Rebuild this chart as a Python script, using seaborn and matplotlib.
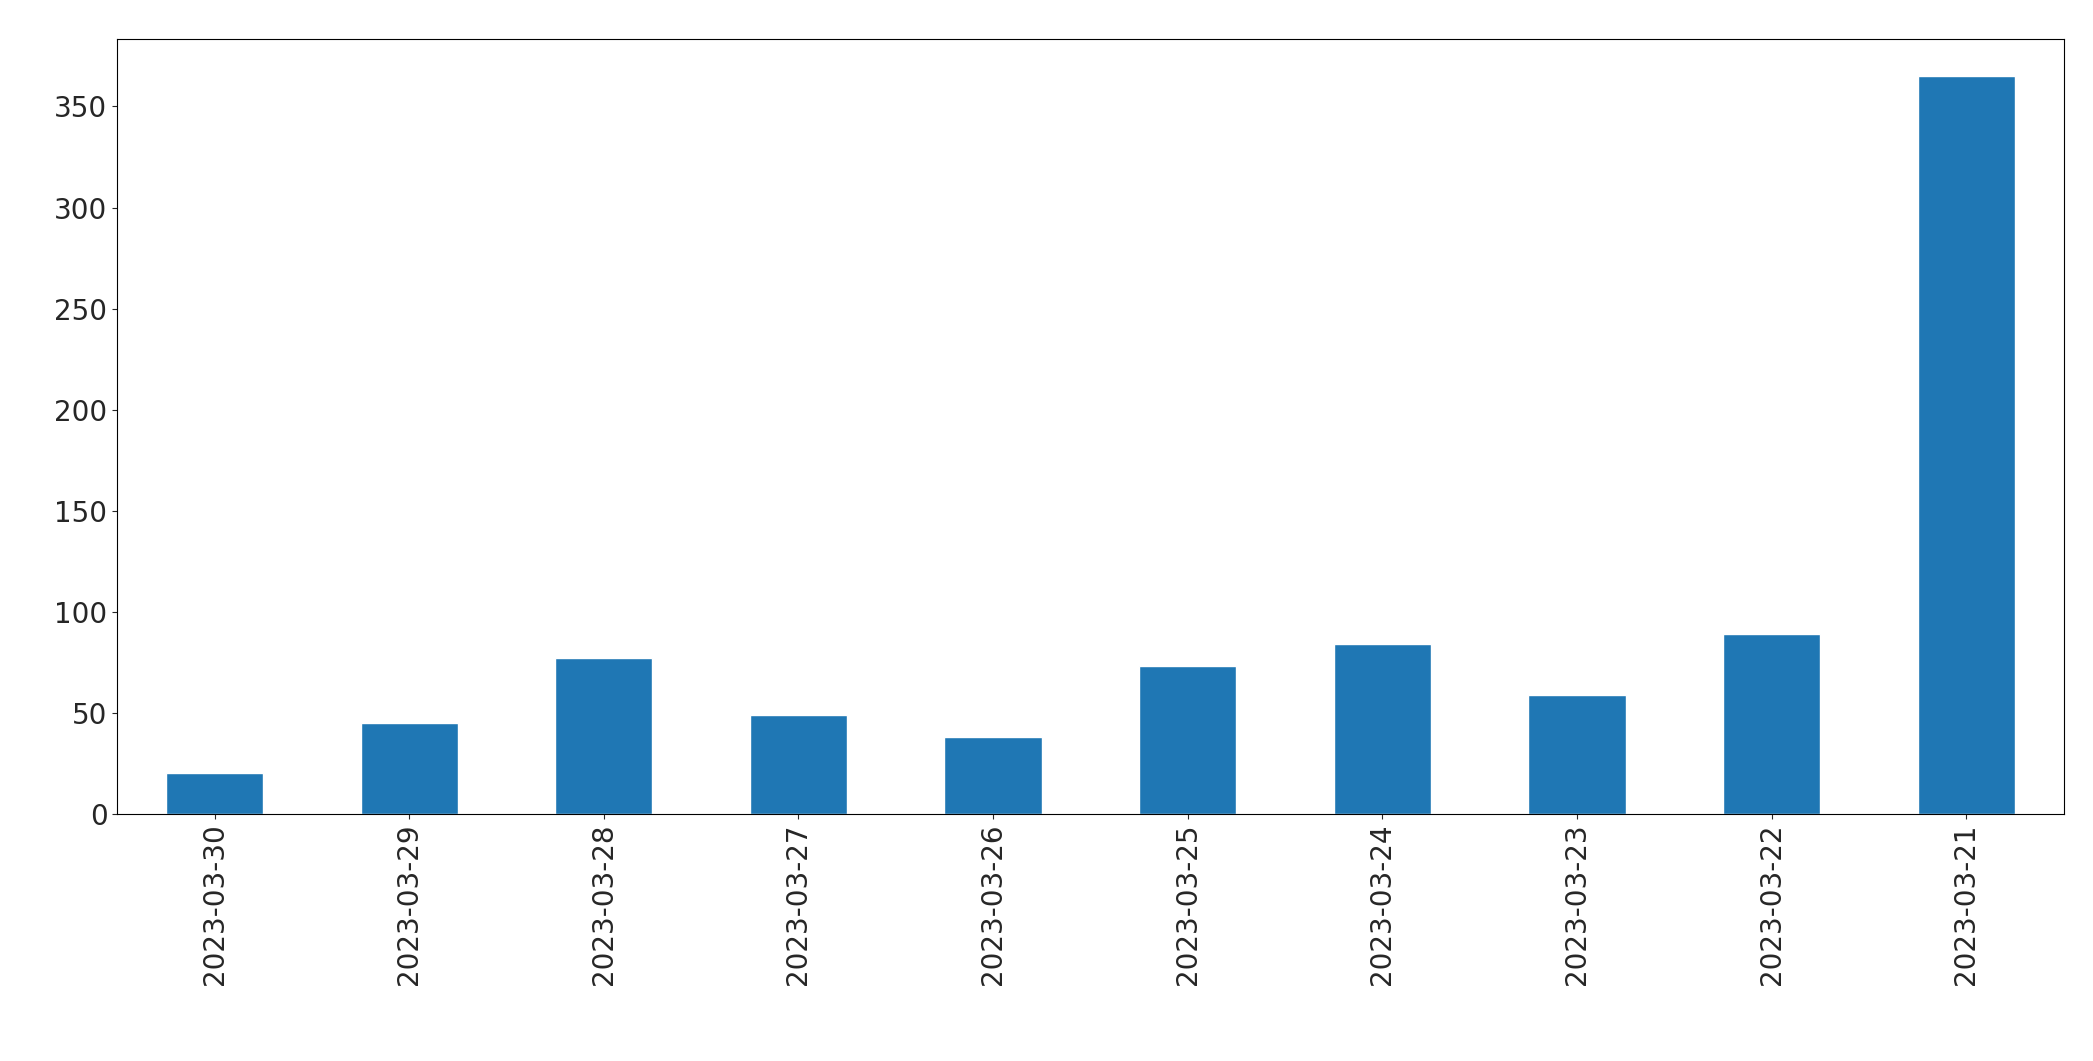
import matplotlib
matplotlib.use("Agg")
import matplotlib.pyplot as plt
import seaborn as sns
import pandas as pd

# daily counts, newest first
dates = ["2023-03-30", "2023-03-29", "2023-03-28", "2023-03-27", "2023-03-26",
         "2023-03-25", "2023-03-24", "2023-03-23", "2023-03-22", "2023-03-21"]
counts = [20, 45, 77, 49, 38, 73, 84, 59, 89, 365]

sns.set_style("ticks")
plt.rcParams['font.family'] = ['DejaVu Sans']

df = pd.DataFrame({"date": dates, "count": counts})

fig = plt.figure(figsize=(20.93, 10.61), dpi=100)
ax = fig.add_axes([0.056, 0.233, 0.93, 0.73])
sns.barplot(data=df, x="date", y="count", order=dates, color="#1f77b4",
            saturation=1, width=0.5, ax=ax)
ax.set_xlabel("")
ax.set_ylabel("")
ax.tick_params(axis="both", labelsize=20)
ax.tick_params(axis="x", labelrotation=90)
ax.set_xlim(-0.5, len(dates) - 0.5)
for s in ax.spines.values():
    s.set_linewidth(0.8)
    s.set_color("black")

fig.savefig("out.png", dpi=100)
